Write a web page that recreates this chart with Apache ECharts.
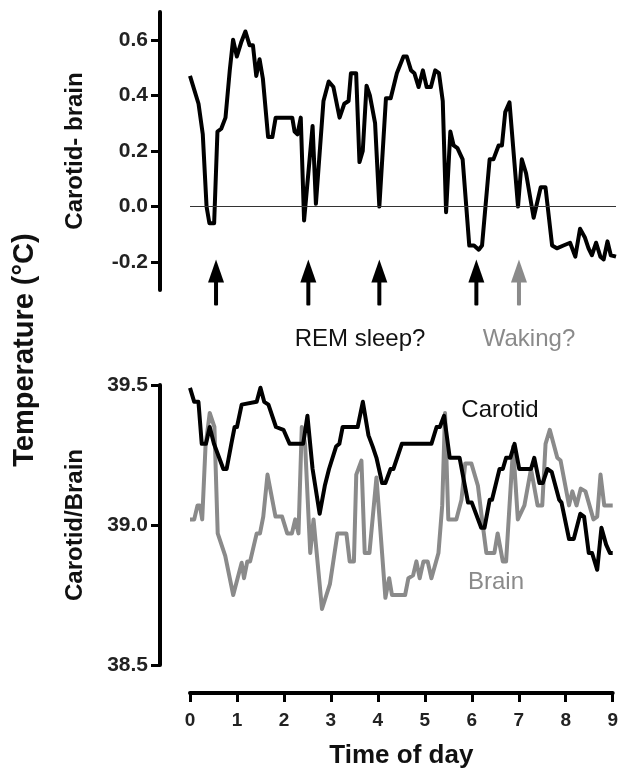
<!DOCTYPE html>
<html>
<head>
<meta charset="utf-8">
<title>Carotid and brain temperature</title>
<script src="https://cdn.jsdelivr.net/npm/echarts@6/dist/echarts.min.js"></script>
<style>
  html, body { margin: 0; padding: 0; background: #fff; }
  #main { width: 621px; height: 772px; }
</style>
</head>
<body>
<div id="main"></div>
<script>
// carotid - brain difference (top panel)
var diffTime = [0,0.18,0.27,0.35,0.41,0.51,0.58,0.66,0.75,0.84,0.91,0.99,1.08,1.17,1.26,1.33,1.4,1.47,1.54,1.65,1.74,1.81,2.16,2.21,2.27,2.34,2.41,2.59,2.66,2.82,2.93,3.03,3.16,3.26,3.35,3.4,3.51,3.58,3.65,3.73,3.8,3.91,4.0,4.14,4.24,4.37,4.51,4.58,4.67,4.74,4.83,4.92,5.0,5.09,5.18,5.26,5.34,5.41,5.5,5.57,5.65,5.76,5.9,6.0,6.1,6.17,6.33,6.41,6.52,6.59,6.66,6.75,6.93,7.01,7.1,7.26,7.41,7.51,7.65,7.75,7.89,8.03,8.14,8.24,8.34,8.42,8.49,8.58,8.67,8.74,8.82,8.89,9.0];
var diffValues = [0.47,0.37,0.26,0.0,-0.06,-0.06,0.27,0.28,0.32,0.49,0.6,0.54,0.59,0.63,0.58,0.58,0.47,0.53,0.46,0.25,0.25,0.32,0.32,0.27,0.26,0.32,-0.05,0.29,0.01,0.38,0.45,0.43,0.32,0.37,0.38,0.48,0.48,0.16,0.2,0.435,0.4,0.3,0.0,0.39,0.39,0.48,0.54,0.54,0.49,0.48,0.43,0.49,0.43,0.43,0.49,0.48,0.38,-0.02,0.27,0.22,0.21,0.17,-0.14,-0.14,-0.155,-0.14,0.17,0.17,0.22,0.22,0.34,0.375,0.0,0.17,0.12,-0.04,0.07,0.07,-0.14,-0.15,-0.14,-0.13,-0.18,-0.08,-0.11,-0.15,-0.175,-0.13,-0.18,-0.19,-0.125,-0.175,-0.18];

// carotid temperature (bottom panel)
var carotidTime = [0,0.09,0.18,0.25,0.34,0.42,0.51,0.71,0.78,0.88,0.95,1.0,1.1,1.42,1.5,1.58,1.67,1.83,1.99,2.12,2.41,2.5,2.61,2.76,2.87,2.96,3.11,3.18,3.25,3.57,3.68,3.8,3.89,3.97,4.09,4.16,4.27,4.33,4.51,5.14,5.25,5.32,5.41,5.53,5.74,5.92,6.0,6.2,6.27,6.38,6.43,6.59,6.66,6.73,6.82,6.91,7.01,7.26,7.33,7.44,7.51,7.61,7.7,7.86,7.91,8.07,8.17,8.31,8.39,8.49,8.56,8.67,8.76,8.86,8.94,9.0];
var carotidValues = [39.49,39.44,39.44,39.29,39.29,39.35,39.29,39.2,39.2,39.29,39.35,39.35,39.43,39.44,39.49,39.44,39.43,39.35,39.34,39.29,39.29,39.39,39.2,39.04,39.14,39.2,39.28,39.29,39.35,39.35,39.44,39.32,39.28,39.24,39.15,39.15,39.2,39.2,39.29,39.29,39.35,39.35,39.39,39.24,39.24,39.08,39.08,38.99,38.99,39.09,39.09,39.2,39.2,39.24,39.24,39.29,39.2,39.2,39.24,39.15,39.15,39.2,39.19,39.09,39.08,38.95,38.95,39.04,39.03,38.9,38.9,38.84,38.99,38.93,38.9,38.9];

// brain temperature (bottom panel)
var brainTime = [0,0.09,0.16,0.21,0.26,0.33,0.42,0.52,0.59,0.75,0.92,1.1,1.15,1.22,1.28,1.42,1.49,1.56,1.65,1.82,1.96,2.07,2.17,2.24,2.31,2.38,2.45,2.56,2.63,2.81,2.98,3.14,3.33,3.4,3.49,3.54,3.65,3.72,3.82,3.97,4.16,4.24,4.3,4.58,4.65,4.75,4.82,4.89,4.97,5.06,5.14,5.29,5.37,5.43,5.5,5.67,5.78,5.86,5.99,6.13,6.24,6.31,6.48,6.55,6.66,6.73,6.88,6.98,7.12,7.26,7.4,7.5,7.57,7.66,7.82,7.89,8.07,8.14,8.23,8.32,8.42,8.59,8.67,8.74,8.82,9.0];
var brainValues = [39.02,39.02,39.07,39.07,39.02,39.28,39.4,39.35,38.97,38.89,38.75,38.865,38.81,38.87,38.87,38.97,38.97,39.03,39.18,39.03,39.03,38.97,38.97,39.02,38.97,39.35,39.29,38.9,39.02,38.7,38.79,38.97,38.97,38.87,38.87,39.18,39.23,38.9,38.9,39.17,38.74,38.81,38.75,38.75,38.81,38.82,38.87,38.81,38.87,38.87,38.81,38.9,39.07,39.4,39.02,39.02,39.09,39.22,39.22,39.14,38.99,38.9,38.9,38.97,38.87,38.87,39.28,39.02,39.07,39.2,39.07,39.07,39.29,39.34,39.24,39.23,39.07,39.12,39.07,39.13,39.12,39.02,39.03,39.18,39.07,39.07];

// arrows under the top panel
var remArrows = [0.55, 2.5, 4.0, 6.05];
var wakeArrows = [6.95];
var arrowTip = -0.19;

// ticks
var diffTicks = [-0.2, 0, 0.2, 0.4, 0.6];
var tempTicks = [38.5, 39.0, 39.5];

function zip(a, b) {
  var out = [];
  for (var i = 0; i < a.length; i++) out.push([a[i], b[i]]);
  return out;
}

var FONT = 'Liberation Sans, Arial, sans-serif';
var GREY = '#8a8a8a';

function arrowSeries(times, color) {
  return {
    type: 'custom',
    xAxisIndex: 0, yAxisIndex: 0,
    silent: true,
    clip: false,
    data: times.map(function (t) { return [t, arrowTip]; }),
    renderItem: function (params, api) {
      var p = api.coord([api.value(0), api.value(1)]);
      return {
        type: 'group',
        children: [
          { type: 'polygon', shape: { points: [[p[0], p[1]], [p[0] - 8, p[1] + 23], [p[0] + 8, p[1] + 23]] }, style: { fill: color } },
          { type: 'rect', shape: { x: p[0] - 2, y: p[1] + 20, width: 4, height: 26, r: 1 }, style: { fill: color } }
        ]
      };
    }
  };
}

var yAxisCommon = function (ticks) {
  return {
    offset: 30,
    splitLine: { show: false },
    axisLine: { show: true, onZero: false, lineStyle: { color: '#000', width: 4 } },
    axisTick: { show: true, length: 9, customValues: ticks, lineStyle: { color: '#000', width: 3 } },
    axisLabel: {
      customValues: ticks, margin: 12,
      fontFamily: FONT, fontWeight: 'bold', fontSize: 21, color: '#222',
      formatter: function (v) { return Number(v).toFixed(1); }
    },
    nameLocation: 'middle',
    nameRotate: 90,
    nameGap: 73,
    nameTextStyle: { fontFamily: FONT, fontWeight: 'bold', fontSize: 24, color: '#111' }
  };
};

var yTop = yAxisCommon(diffTicks);
yTop.gridIndex = 0; yTop.min = -0.3; yTop.max = 0.7;
yTop.name = 'Carotid- brain';

var yBottom = yAxisCommon(tempTicks);
yBottom.gridIndex = 1; yBottom.min = 38.5; yBottom.max = 39.5;
yBottom.name = 'Carotid/Brain';

var option = {
  animation: false,
  backgroundColor: '#fff',
  grid: [
    { left: 190, right: 5, top: 12, height: 278 },
    { left: 190, right: 5, top: 385, height: 280 }
  ],
  xAxis: [
    { gridIndex: 0, type: 'value', min: 0, max: 9, show: false },
    {
      gridIndex: 1, type: 'value', min: 0, max: 9, interval: 1, offset: 28,
      splitLine: { show: false },
      axisLine: { show: true, onZero: false, lineStyle: { color: '#000', width: 4 } },
      axisTick: { show: true, length: 9, lineStyle: { color: '#000', width: 3 } },
      axisLabel: { margin: 18, fontFamily: FONT, fontWeight: 'bold', fontSize: 19, color: '#222' },
      name: 'Time of day', nameLocation: 'middle', nameGap: 50,
      nameTextStyle: { fontFamily: FONT, fontWeight: 'bold', fontSize: 26, color: '#111' }
    }
  ],
  yAxis: [yTop, yBottom],
  graphic: [
    { type: 'text', x: 25, y: 350, rotation: Math.PI / 2,
      style: { text: 'Temperature (\u00B0C)', font: 'bold 29px ' + FONT, fill: '#111', textAlign: 'center', textVerticalAlign: 'middle' } },
    { type: 'text', x: 360, y: 339,
      style: { text: 'REM sleep?', font: '24px ' + FONT, fill: '#111', textAlign: 'center', textVerticalAlign: 'middle' } },
    { type: 'text', x: 529, y: 339,
      style: { text: 'Waking?', font: '24px ' + FONT, fill: GREY, textAlign: 'center', textVerticalAlign: 'middle' } },
    { type: 'text', x: 500, y: 410,
      style: { text: 'Carotid', font: '24px ' + FONT, fill: '#111', textAlign: 'center', textVerticalAlign: 'middle' } },
    { type: 'text', x: 496, y: 582,
      style: { text: 'Brain', font: '24px ' + FONT, fill: GREY, textAlign: 'center', textVerticalAlign: 'middle' } }
  ],
  series: [
    {
      name: 'Carotid - brain', type: 'line', xAxisIndex: 0, yAxisIndex: 0,
      data: zip(diffTime, diffValues), showSymbol: false,
      lineStyle: { color: '#000', width: 4, join: 'round' },
      markLine: {
        silent: true, symbol: 'none', label: { show: false },
        lineStyle: { color: '#333', width: 1, type: 'solid' },
        data: [{ yAxis: 0 }]
      }
    },
    arrowSeries(remArrows, '#000'),
    arrowSeries(wakeArrows, GREY),
    {
      name: 'Brain', type: 'line', xAxisIndex: 1, yAxisIndex: 1,
      data: zip(brainTime, brainValues), showSymbol: false,
      lineStyle: { color: GREY, width: 4, join: 'round' }
    },
    {
      name: 'Carotid', type: 'line', xAxisIndex: 1, yAxisIndex: 1,
      data: zip(carotidTime, carotidValues), showSymbol: false,
      lineStyle: { color: '#000', width: 4, join: 'round' }
    }
  ]
};

var chart = echarts.init(document.getElementById('main'));
chart.setOption(option);
</script>
</body>
</html>
